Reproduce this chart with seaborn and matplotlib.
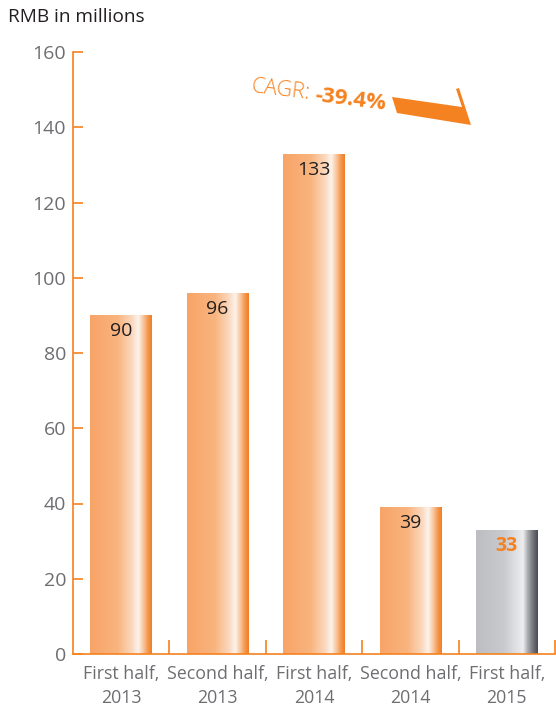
import numpy as np
import pandas as pd
import matplotlib
matplotlib.use("Agg")
import matplotlib.pyplot as plt
import seaborn as sns
from matplotlib.colors import LinearSegmentedColormap
from matplotlib.patches import Polygon

categories = ["First half,\n2013", "Second half,\n2013", "First half,\n2014",
              "Second half,\n2014", "First half,\n2015"]
values = [90, 96, 133, 39, 33]
value_labels = ["90", "96", "133", "39", "33"]
y_ticks = [0, 20, 40, 60, 80, 100, 120, 140, 160]
title_text = "RMB in millions"
cagr_label = "CAGR:"
cagr_value = "-39.4%"

sns.set_theme(style="white")
plt.rcParams['font.family'] = ['Open Sans', 'DejaVu Sans']

ORANGE = "#F58220"
GRAY_TXT = "#6D6E71"
DARK_TXT = "#231F20"

W, H = 556, 710
fig = plt.figure(figsize=(W / 100, H / 100), dpi=100)
ax = fig.add_axes([73 / W, 1 - 654 / H, (555 - 73) / W, (654 - 52) / H])

df = pd.DataFrame({"cat": categories, "val": values})
sns.barplot(data=df, x="cat", y="val", ax=ax, width=0.64, color=ORANGE,
            saturation=1, edgecolor="none", linewidth=0)

ax.set_xlim(-0.5, len(categories) - 0.5)
ax.set_ylim(0, 160)
ax.set_xlabel("")
ax.set_ylabel("")

orange_cmap = LinearSegmentedColormap.from_list("og", [
    (0.0, "#F8A467"), (0.45, "#F9B47F"), (0.68, "#FBD9BE"),
    (0.78, "#FCF3EC"), (0.86, "#F9C79E"), (0.94, "#F49549"), (1.0, "#F07E28")])
gray_cmap = LinearSegmentedColormap.from_list("gr", [
    (0.0, "#BDBEC2"), (0.45, "#C9CACE"), (0.68, "#E3E4E6"),
    (0.76, "#EEEEEF"), (0.84, "#A9AAAE"), (0.92, "#74757B"), (1.0, "#4A4B52")])

grad = np.linspace(0, 1, 256).reshape(1, -1)
for i, p in enumerate(ax.patches):
    x0, y0 = p.get_x(), p.get_y()
    w, h = p.get_width(), p.get_height()
    cmap = gray_cmap if i == len(ax.patches) - 1 else orange_cmap
    p.set_facecolor("none")
    im = ax.imshow(grad, cmap=cmap, aspect="auto", extent=[x0, x0 + w, y0, y0 + h],
                   zorder=2, interpolation="bilinear")
    im.set_clip_path(p)

ax.set_xlim(-0.5, len(categories) - 0.5)
ax.set_ylim(0, 160)

for i, (v, lab) in enumerate(zip(values, value_labels)):
    last = i == len(values) - 1
    ax.annotate(lab, (i, v), xytext=(0, -11.5), textcoords="offset points",
                ha="center", va="center", fontsize=14,
                color=ORANGE if last else DARK_TXT,
                fontweight="bold" if last else "normal", zorder=5)

for s in ["top", "right"]:
    ax.spines[s].set_visible(False)
for s in ["left", "bottom"]:
    ax.spines[s].set_color(ORANGE)
    ax.spines[s].set_linewidth(1.2)

ax.set_yticks(y_ticks)
ax.set_yticklabels([str(t) for t in y_ticks])
ax.tick_params(axis="y", direction="in", length=7, width=1.2, color=ORANGE,
               labelsize=14, labelcolor=GRAY_TXT, pad=5, left=True)
ax.set_xticks(range(len(categories)))
ax.set_xticklabels(categories, linespacing=1.4)
ax.tick_params(axis="x", which="major", length=0, labelsize=12.8,
               labelcolor=GRAY_TXT, pad=8)
ax.set_xticks([i + 0.5 for i in range(len(categories))], minor=True)
ax.tick_params(axis="x", which="minor", direction="in", length=10, width=1.2,
               color=ORANGE, bottom=True)
ax.grid(False)

fig.text(8 / W, 1 - 17 / H, title_text, fontsize=13.7, color=DARK_TXT,
         ha="left", va="center")

# CAGR annotation (decorative)
fig.text(251 / W, 1 - 87 / H, cagr_label, fontsize=15.5, color=ORANGE,
         fontweight="light", rotation=-7, ha="left", va="center",
         rotation_mode="anchor")
fig.text(315 / W, 1 - 96 / H, cagr_value, fontsize=16, color=ORANGE,
         fontweight="bold", rotation=-7, ha="left", va="center",
         rotation_mode="anchor")
pts = [(392, 97), (462, 107), (456, 89), (459, 88), (471, 125), (397, 113)]
poly = Polygon([(x / W, 1 - y / H) for x, y in pts], closed=True,
               transform=fig.transFigure, facecolor=ORANGE, edgecolor="none")
fig.patches.append(poly)

fig.savefig("out.png", dpi=100)
